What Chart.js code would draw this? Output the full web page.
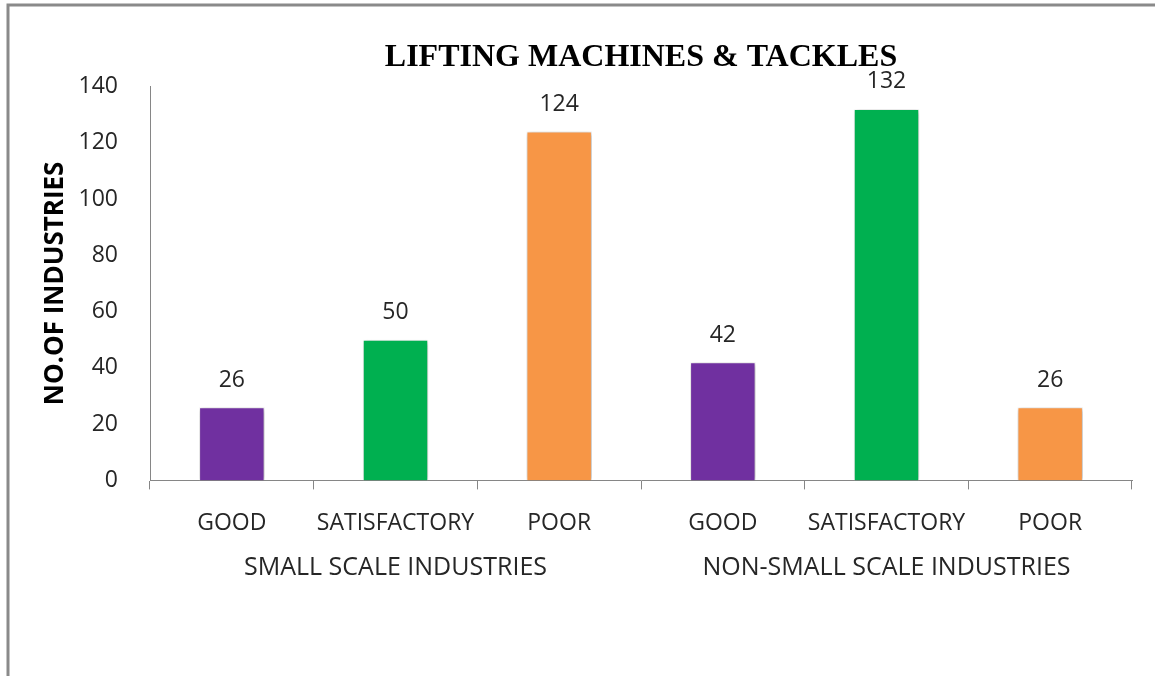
<!DOCTYPE html>
<html>
<head>
<meta charset="utf-8">
<script src="https://cdn.jsdelivr.net/npm/chart.js@4"></script>
<style>
  html, body { margin: 0; padding: 0; background: #fff; }
  #wrap { width: 1155px; height: 676px; position: relative; }
</style>
</head>
<body>
<div id="wrap"><canvas id="myChart" width="1155" height="676"></canvas></div>
<script>
// chart data
const categories = ['GOOD', 'SATISFACTORY', 'POOR', 'GOOD', 'SATISFACTORY', 'POOR'];
const groups = ['SMALL SCALE INDUSTRIES', 'NON-SMALL SCALE INDUSTRIES'];
const values = [26, 50, 124, 42, 132, 26];
const barColors = ['#7030A0', '#00B050', '#F79646', '#7030A0', '#00B050', '#F79646'];
const yTicks = [0, 20, 40, 60, 80, 100, 120, 140];

const axisGray = '#868686';

// grey frame line on the left and top
const framePlugin = {
  id: 'frame',
  beforeDraw(chart) {
    const c = chart.ctx;
    c.save();
    c.strokeStyle = '#8a8a8a';
    c.lineWidth = 3;
    c.beginPath();
    c.moveTo(8, 676);
    c.lineTo(8, 5);
    c.lineTo(1155, 5);
    c.stroke();
    c.restore();
  }
};

// soft shadow behind the bars
const shadowPlugin = {
  id: 'barShadow',
  beforeDatasetDraw(chart) {
    const c = chart.ctx;
    c.save();
    c.shadowColor = 'rgba(0,0,0,0.35)';
    c.shadowBlur = 5;
    c.shadowOffsetX = 1;
    c.shadowOffsetY = 1;
  },
  afterDatasetDraw(chart) {
    chart.ctx.restore();
  }
};

// value labels above the bars
const valueLabels = {
  id: 'valueLabels',
  afterDatasetsDraw(chart) {
    const c = chart.ctx;
    const meta = chart.getDatasetMeta(0);
    c.save();
    c.font = '23px "Open Sans"';
    c.fillStyle = '#262626';
    c.textAlign = 'center';
    c.textBaseline = 'middle';
    meta.data.forEach((bar, i) => {
      c.fillText(values[i], bar.x, bar.y - 27);
    });
    c.restore();
  }
};

const ctx = document.getElementById('myChart').getContext('2d');
const myChart = new Chart(ctx, {
  type: 'bar',
  data: {
    labels: categories,
    datasets: [{
      data: values,
      backgroundColor: barColors,
      borderColor: 'rgba(255,255,255,0.6)',
      borderWidth: 1,
      barPercentage: 0.4,
      categoryPercentage: 1
    }]
  },
  options: {
    responsive: false,
    animation: false,
    layout: { padding: { left: 0, right: 23, top: 0, bottom: 97 } },
    plugins: {
      legend: { display: false },
      tooltip: { enabled: false },
      title: {
        display: true,
        text: 'LIFTING MACHINES & TACKLES',
        fullSize: false,
        color: '#000',
        font: { family: '"Liberation Serif"', size: 32, weight: 'bold' },
        padding: { top: 39, bottom: 9 }
      }
    },
    scales: {
      x: {
        weight: 1,
        grid: { display: true, drawOnChartArea: false, drawTicks: true, tickLength: 9, color: axisGray, offset: true },
        border: { display: true, color: axisGray, width: 1 },
        ticks: { color: '#262626', font: { family: '"Open Sans"', size: 23 }, padding: 20, maxRotation: 0, autoSkip: false }
      },
      x2: {
        type: 'category',
        position: 'bottom',
        weight: 2,
        labels: groups,
        grid: { display: false, drawTicks: false, tickLength: 0 },
        border: { display: false },
        ticks: { color: '#262626', font: { family: '"Open Sans"', size: 25 }, padding: -4, maxRotation: 0 }
      },
      y: {
        min: 0,
        max: 140,
        afterBuildTicks(scale) { scale.ticks = yTicks.map(v => ({ value: v })); },
        afterFit(scale) { scale.width = 150; },
        grid: { display: false },
        border: { display: true, color: axisGray, width: 1 },
        ticks: { color: '#262626', font: { family: '"Open Sans"', size: 23 }, padding: 24 },
        title: {
          display: true,
          text: 'NO.OF INDUSTRIES',
          color: '#000',
          font: { family: '"Open Sans"', size: 26, weight: 'bold' },
          padding: { top: 40, bottom: 0 }
        }
      }
    }
  },
  plugins: [framePlugin, shadowPlugin, valueLabels]
});
</script>
</body>
</html>
